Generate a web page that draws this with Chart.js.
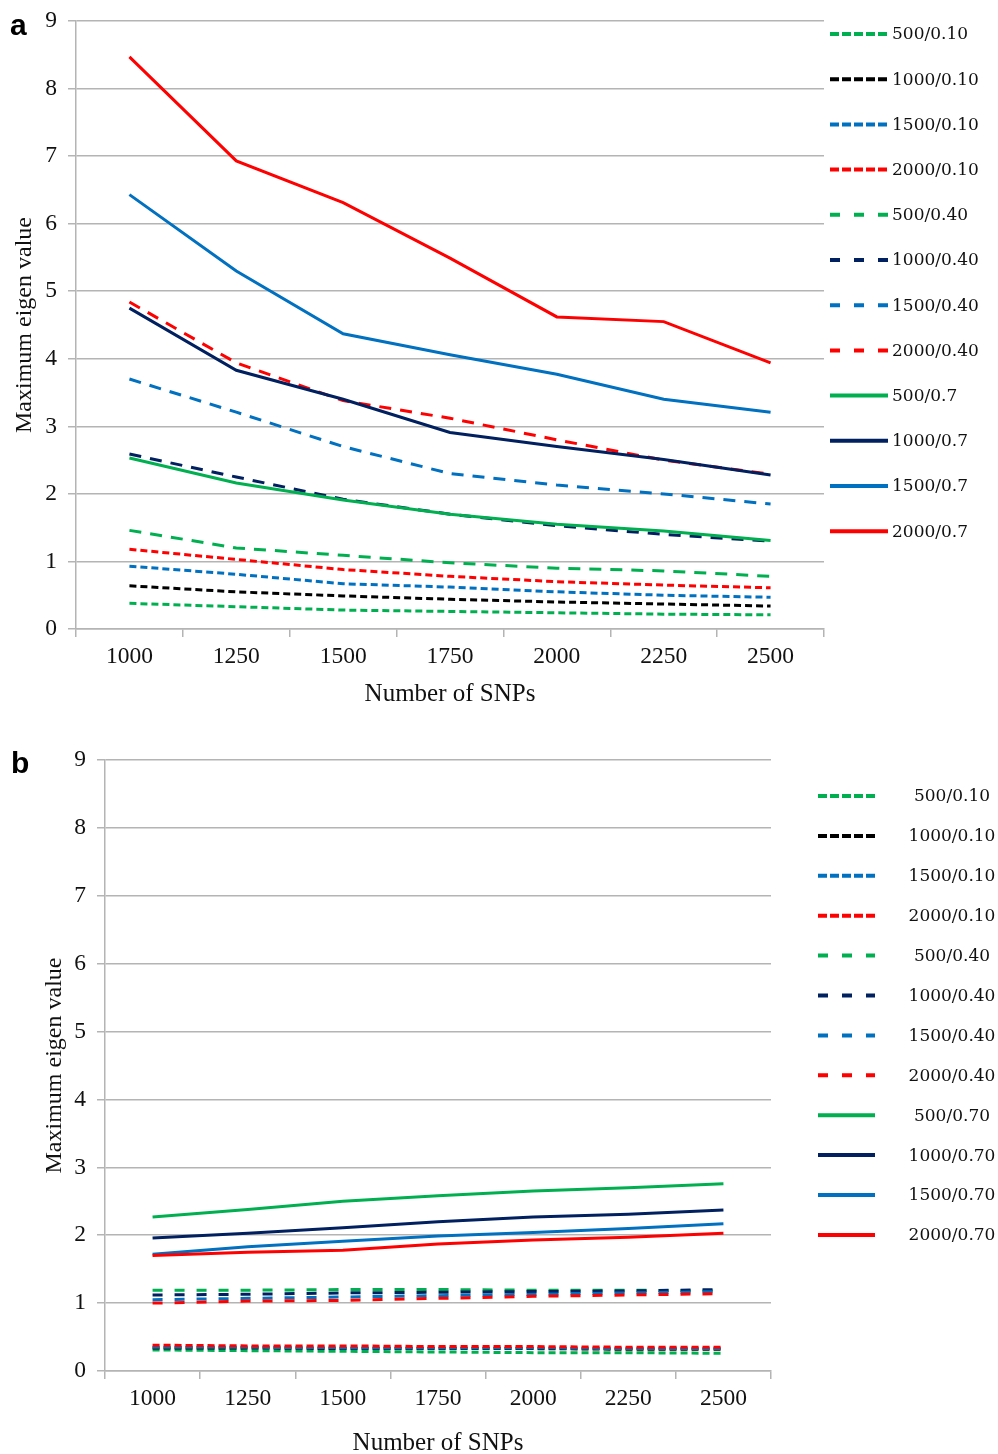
<!DOCTYPE html>
<html><head><meta charset="utf-8">
<script src="https://cdn.jsdelivr.net/npm/chart.js@4.4.0/dist/chart.umd.min.js"></script>
<style>
html,body{margin:0;padding:0;background:#fff;overflow:hidden;width:998px;height:1454px;}
#wa{position:absolute;left:0;top:0;width:998px;height:730px;}
#wb{position:absolute;left:0;top:730px;width:998px;height:740px;}
.lab{position:absolute;font:bold 30px "Liberation Sans",Arial,sans-serif;line-height:30px;color:#000;}
</style></head><body>
<div id="wa"><canvas id="ca" width="998" height="730"></canvas></div>
<div id="wb"><canvas id="cb" width="998" height="740"></canvas></div>
<div class="lab" style="left:10px;top:10px">a</div>
<div class="lab" style="left:11px;top:748px">b</div>
<script>
// ---------- data ----------
const categories = ['1000','1250','1500','1750','2000','2250','2500'];
const yTicks = [0,1,2,3,4,5,6,7,8,9];

const seriesLabelsA = ['500/0.10','1000/0.10','1500/0.10','2000/0.10','500/0.40','1000/0.40','1500/0.40','2000/0.40','500/0.7','1000/0.7','1500/0.7','2000/0.7'];
const seriesLabelsB = ['500/0.10','1000/0.10','1500/0.10','2000/0.10','500/0.40','1000/0.40','1500/0.40','2000/0.40','500/0.70','1000/0.70','1500/0.70','2000/0.70'];

// Panel a
const a_500_010  = [0.38,0.33,0.28,0.26,0.24,0.22,0.21];
const a_1000_010 = [0.64,0.55,0.49,0.44,0.40,0.37,0.34];
const a_1500_010 = [0.93,0.81,0.67,0.62,0.55,0.50,0.47];
const a_2000_010 = [1.18,1.03,0.88,0.78,0.70,0.65,0.61];
const a_500_040  = [1.46,1.20,1.09,0.98,0.90,0.86,0.78];
const a_1000_040 = [2.59,2.25,1.92,1.70,1.53,1.40,1.30];
const a_1500_040 = [3.70,3.21,2.70,2.30,2.13,2.00,1.85];
const a_2000_040 = [4.84,3.94,3.38,3.12,2.80,2.50,2.29];
const a_500_07   = [2.53,2.16,1.91,1.70,1.55,1.45,1.31];
const a_1000_07  = [4.75,3.83,3.40,2.91,2.70,2.51,2.28];
const a_1500_07  = [6.43,5.30,4.37,4.06,3.77,3.40,3.21];
const a_2000_07  = [8.47,6.93,6.31,5.49,4.62,4.55,3.94];

// Panel b
const b_500_010  = [0.31,0.30,0.29,0.28,0.27,0.27,0.26];
const b_1000_010 = [0.34,0.34,0.33,0.33,0.33,0.32,0.32];
const b_1500_010 = [0.35,0.35,0.34,0.34,0.34,0.33,0.33];
const b_2000_010 = [0.38,0.37,0.37,0.36,0.36,0.35,0.35];
const b_500_040  = [1.19,1.19,1.20,1.20,1.19,1.19,1.18];
const b_1000_040 = [1.12,1.13,1.15,1.16,1.17,1.18,1.20];
const b_1500_040 = [1.05,1.07,1.09,1.11,1.13,1.15,1.17];
const b_2000_040 = [1.00,1.03,1.04,1.07,1.10,1.12,1.14];
const b_500_070  = [2.27,2.38,2.50,2.58,2.65,2.70,2.76];
const b_1000_070 = [1.96,2.03,2.11,2.20,2.27,2.31,2.37];
const b_1500_070 = [1.72,1.83,1.91,1.99,2.04,2.10,2.17];
const b_2000_070 = [1.70,1.75,1.78,1.87,1.93,1.97,2.03];

const seriesA = [a_500_010,a_1000_010,a_1500_010,a_2000_010,a_500_040,a_1000_040,a_1500_040,a_2000_040,a_500_07,a_1000_07,a_1500_07,a_2000_07];
const seriesB = [b_500_010,b_1000_010,b_1500_010,b_2000_010,b_500_040,b_1000_040,b_1500_040,b_2000_040,b_500_070,b_1000_070,b_1500_070,b_2000_070];

// ---------- styles ----------
const COLORS = ['#00B050','#000000','#0070C0','#FF0000','#00B050','#002060','#0070C0','#FF0000','#00B050','#002060','#0070C0','#FF0000'];
const GRID = '#b4b4b4';
const SERIF = '"Liberation Serif","Times New Roman",serif';
const LEGFONT = '17px "DejaVu Serif",serif';

function dashFor(i, panel){
  if (i < 4) return [7,4];
  if (i < 8) return panel==='a' ? [12,9] : [10,12];
  return [];
}
function legendDashFor(i){
  if (i < 4) return [9,3];
  if (i < 8) return [10,14];
  return [];
}

function makeDatasets(series, labels, panel){
  return series.map((d,i)=>({
    label: labels[i],
    data: d,
    borderColor: COLORS[i],
    backgroundColor: COLORS[i],
    borderWidth: 3,
    borderDash: dashFor(i,panel),
    pointRadius: 0,
    tension: 0,
    fill: false,
    order: series.length - 1 - i
  }));
}

function legendPlugin(cfg){
  return {
    id: 'customLegend',
    afterDraw(chart){
      const ctx = chart.ctx;
      ctx.save();
      chart.data.datasets.forEach((ds,i)=>{
        const y = cfg.y0 + i*cfg.dy;
        ctx.beginPath();
        ctx.setLineDash(legendDashFor(i));
        ctx.lineWidth = 4;
        ctx.strokeStyle = ds.borderColor;
        ctx.lineCap = 'butt';
        ctx.moveTo(cfg.x1, y);
        ctx.lineTo(cfg.x2, y);
        ctx.stroke();
        ctx.setLineDash([]);
        ctx.fillStyle = '#111';
        ctx.font = LEGFONT;
        ctx.textBaseline = 'middle';
        ctx.textAlign = cfg.align;
        ctx.fillText(ds.label, cfg.tx, y+1);
      });
      ctx.restore();
    }
  };
}

function makeChart(id, series, labels, panel, geo){
  return new Chart(document.getElementById(id), {
    type: 'line',
    data: { labels: categories, datasets: makeDatasets(series, labels, panel) },
    options: {
      responsive: false,
      animation: false,
      devicePixelRatio: 1,
      layout: { padding: { top: geo.top, right: geo.right, left: 0, bottom: 0 } },
      plugins: { legend: { display: false }, tooltip: { enabled: false } },
      scales: {
        x: {
          type: 'category',
          offset: true,
          grid: { offset: true, drawOnChartArea: false, drawTicks: true, tickLength: 8, color: GRID, lineWidth: 1.5 },
          border: { display: true, color: GRID, width: 1.5 },
          ticks: { color: '#111', font: { family: SERIF, size: 23.5 }, padding: 6, maxRotation: 0, autoSkip: false },
          title: { display: true, text: 'Number of SNPs', color: '#111', font: { family: SERIF, size: 25 }, padding: { top: 0, bottom: geo.xTitlePad } },
          afterFit(s){ s.height = geo.xHeight; s.paddingLeft = 0; s.paddingRight = 0; }
        },
        y: {
          min: 0, max: 9,
          afterBuildTicks(s){ s.ticks = yTicks.map(v=>({value:v})); },
          grid: { color: GRID, lineWidth: 1.5, drawTicks: true, tickLength: 8 },
          border: { display: true, color: GRID, width: 1.5 },
          ticks: { color: '#111', font: { family: SERIF, size: 23.5 }, padding: 11 },
          title: { display: true, text: 'Maximum eigen value', color: '#111', font: { family: SERIF, size: 24 }, padding: { top: geo.yTitlePad, bottom: 0 } },
          afterFit(s){ s.width = geo.yWidth; s.paddingTop = 0; s.paddingBottom = 0; }
        }
      }
    },
    plugins: [legendPlugin(geo.legend)]
  });
}

makeChart('ca', seriesA, seriesLabelsA, 'a', {
  top: 21, right: 174, xHeight: 101, yWidth: 76, xTitlePad: 21, yTitlePad: 10,
  legend: { x1: 830, x2: 888, tx: 892, align: 'left', y0: 34, dy: 45.2 }
});
makeChart('cb', seriesB, seriesLabelsB, 'b', {
  top: 30, right: 227, xHeight: 99, yWidth: 105, xTitlePad: 12, yTitlePad: 40,
  legend: { x1: 818, x2: 875, tx: 952, align: 'center', y0: 66, dy: 39.9 }
});
</script>
</body></html>
